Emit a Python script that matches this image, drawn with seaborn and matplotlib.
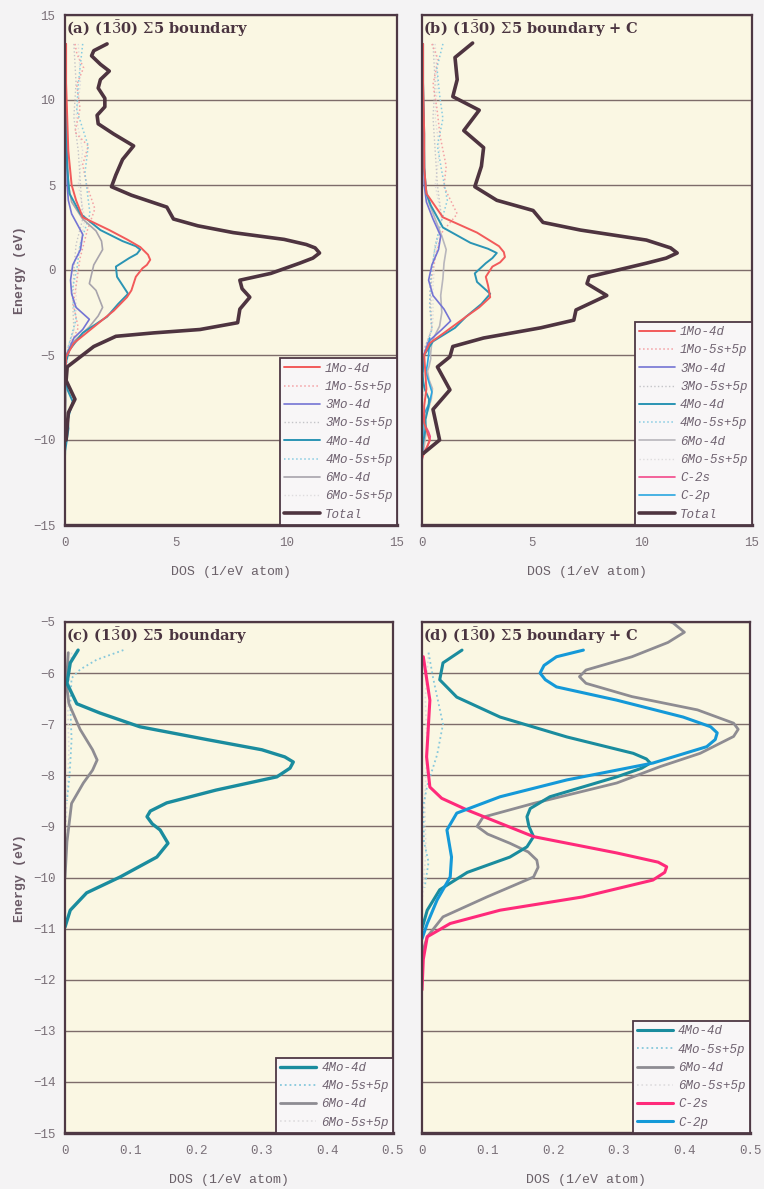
import matplotlib
matplotlib.use("Agg")
import matplotlib.pyplot as plt
import seaborn as sns

# ---------------------------------------------------------------- data
# Panel (a): (1-30) Sigma5 boundary, full energy window
a_1mo_d_E   = [13.3, 11, 9, 7, 5, 4.1, 3.1, 2.35, 1.8, 1.35, 0.9, 0.6, 0.3, 0.1, -0.4, -0.8, -1.2, -1.6, -2.4, -3.35, -4.3, -5.1, -6]
a_1mo_d     = [0.05, 0.05, 0.1, 0.15, 0.3, 0.5, 0.8, 2.0, 2.8, 3.4, 3.75, 3.85, 3.7, 3.5, 3.2, 3.1, 3.0, 2.8, 2.2, 1.3, 0.4, 0.05, 0.02]
a_1mo_sp_E  = [13.3, 12.7, 11.9, 10.9, 9.5, 8.1, 7.3, 6.2, 5.0, 3.6, 2.3, 0.7, -0.6, -2.0, -3.4, -4.5, -5.3]
a_1mo_sp    = [0.45, 0.54, 0.84, 0.53, 0.68, 0.45, 1.05, 0.8, 0.98, 1.35, 1.0, 0.68, 0.54, 0.37, 0.6, 0.2, 0.05]
a_3mo_d_E   = [13.3, 10, 7, 5, 4.1, 3.3, 2.1, 1.2, 0.3, -0.6, -1.4, -2.2, -2.9, -3.5, -4.0, -4.9, -5.8]
a_3mo_d     = [0.05, 0.05, 0.1, 0.1, 0.15, 0.3, 0.8, 0.7, 0.35, 0.25, 0.3, 0.5, 1.1, 0.8, 0.4, 0.1, 0.02]
a_3mo_sp_E  = [13.3, 11, 9, 7, 5, 3, 1.5, 0, -2, -3.5, -4.5, -5.5]
a_3mo_sp    = [0.4, 0.5, 0.4, 0.6, 0.7, 0.8, 0.5, 0.4, 0.35, 0.4, 0.15, 0.02]
a_4mo_d_E   = [13.3, 11, 8, 6, 4.5, 3.3, 2.35, 1.7, 1.4, 1.2, 0.95, 0.7, 0.2, -0.4, -0.9, -1.4, -2.0, -2.75, -3.7, -4.7, -5.5,
               -6.2, -7.05, -7.74, -8.29, -8.81, -9.33, -9.99, -10.64, -11.0]
a_4mo_d     = [0.02, 0.02, 0.05, 0.1, 0.2, 0.7, 1.6, 2.6, 3.2, 3.4, 3.25, 2.9, 2.3, 2.35, 2.6, 2.85, 2.4, 1.9, 0.8, 0.2, 0.02,
               0.003, 0.114, 0.348, 0.23, 0.125, 0.157, 0.084, 0.008, 0.0]
a_4mo_sp_E  = [13.3, 11.9, 10.9, 9.4, 7.3, 5.7, 3.3, 1.5, 0.1, -1.3, -2.9, -4.5, -5.55, -5.93, -6.1, -8.5]
a_4mo_sp    = [0.8, 0.68, 0.6, 0.53, 1.05, 0.9, 1.13, 0.68, 0.54, 0.3, 0.5, 0.15, 0.089, 0.023, 0.01, 0.005]
a_6mo_d_E   = [13.3, 10, 7, 5, 4, 3, 2.3, 1.7, 1.2, 0.3, -0.8, -1.2, -2.2, -2.7, -3.35, -4.2, -5, -6, -7.7, -9]
a_6mo_d     = [0.03, 0.05, 0.1, 0.15, 0.3, 0.8, 1.4, 1.65, 1.7, 1.3, 1.1, 1.4, 1.7, 1.5, 1.1, 0.4, 0.05, 0.003, 0.049, 0.003]
a_6mo_sp_E  = [13.3, 11, 9, 7, 5, 3, 1, -1, -3, -4.5, -5.5]
a_6mo_sp    = [0.6, 0.7, 0.5, 0.8, 0.6, 0.9, 0.6, 0.5, 0.5, 0.2, 0.02]
a_total_E   = [13.3, 12.9, 12.6, 12.1, 11.7, 11.2, 10.7, 10.1, 9.6, 9.1, 8.6, 8.0, 7.3, 6.5, 5.6, 4.9, 4.4, 3.7, 3.0,
               2.6, 2.2, 1.8, 1.5, 1.3, 1.0, 0.7, 0.4, -0.2, -0.6, -1.1, -1.6, -2.3, -3.1, -3.5, -3.7, -3.9, -4.5, -5.1,
               -5.7, -6.5, -7.6, -8.4, -10.0]
a_total     = [1.9, 1.3, 1.2, 1.6, 2.0, 1.6, 1.5, 1.8, 1.8, 1.45, 1.5, 2.2, 3.1, 2.6, 2.3, 2.1, 3.0, 4.6, 4.9,
               6.0, 7.6, 9.9, 10.9, 11.3, 11.5, 11.2, 10.6, 9.3, 7.9, 8.0, 8.35, 7.9, 7.8, 6.1, 4.0, 2.3, 1.3, 0.7,
               0.1, 0.05, 0.45, 0.15, 0.05]

# Panel (b): (1-30) Sigma5 boundary + C, full energy window
b_1mo_d_E   = [13.3, 11, 8, 6, 4.5, 3.1, 2.2, 1.4, 1.05, 0.76, 0.45, 0.2, -0.4, -0.9, -1.6, -2.2, -2.75, -3.7, -4.3, -5, -6, -7,
               -8, -9, -9.6, -10, -10.5, -11]
b_1mo_d     = [0.05, 0.05, 0.1, 0.1, 0.2, 0.95, 2.5, 3.5, 3.72, 3.77, 3.55, 3.2, 2.9, 3.0, 3.1, 2.6, 2.0, 1.0, 0.35, 0.1, 0.15, 0.2,
               0.1, 0.1, 0.25, 0.35, 0.2, 0.02]
b_1mo_sp_E  = [13.3, 12.4, 10.9, 9.5, 7.9, 6.1, 4.9, 3.3, 2.2, 0.7, -0.6, -2.0, -3.5, -4.5, -5.5]
b_1mo_sp    = [0.45, 0.73, 0.5, 0.68, 0.82, 1.1, 1.0, 1.6, 0.9, 0.6, 0.4, 0.35, 0.45, 0.15, 0.03]
b_3mo_d_E   = [13.3, 10, 7, 5, 4, 3, 2, 1.2, 0.3, -0.6, -1.5, -2.3, -3.0, -3.5, -4.2, -5, -6]
b_3mo_d     = [0.05, 0.05, 0.1, 0.1, 0.2, 0.5, 0.85, 0.75, 0.45, 0.3, 0.5, 1.0, 1.3, 0.9, 0.3, 0.08, 0.02]
b_3mo_sp_E  = [13.3, 11, 9, 7, 5, 3, 1.5, 0, -2, -3.5, -4.5, -5.5]
b_3mo_sp    = [0.5, 0.6, 0.5, 0.6, 0.7, 0.9, 0.6, 0.45, 0.4, 0.45, 0.15, 0.02]
b_4mo_d_E   = [13.3, 11, 8, 6, 4.5, 3.8, 2.5, 1.6, 1.25, 1.0, 0.7, 0.4, -0.2, -0.7, -1.4, -2.0, -2.75, -3.4, -4.2, -5.0, -5.6,
               -6.1, -6.5, -7.0, -7.6, -8.0, -8.8, -9.2, -9.6, -10.3, -11]
b_4mo_d     = [0.05, 0.05, 0.1, 0.1, 0.2, 0.4, 0.95, 2.2, 3.0, 3.4, 3.2, 2.9, 2.4, 2.5, 3.1, 2.7, 2.0, 1.5, 0.5, 0.1, 0.06,
               0.03, 0.05, 0.12, 0.32, 0.3, 0.16, 0.17, 0.13, 0.027, 0.0]
b_4mo_sp_E  = [13.3, 11.9, 10.3, 8.9, 7.3, 5.8, 4.1, 2.5, 1.0, -0.5, -2.0, -3.5, -4.6, -5.6, -7.0, -8.2]
b_4mo_sp    = [0.95, 0.68, 0.8, 0.95, 0.7, 0.9, 1.15, 0.8, 0.55, 0.4, 0.35, 0.45, 0.15, 0.03, 0.03, 0.008]
b_6mo_d_E   = [13.3, 10, 7, 5, 4, 3, 2, 1.2, 0.4, -0.5, -1.5, -2.5, -3.3, -4.2, -5.02, -5.2, -5.68, -5.94, -6.46,
               -6.98, -7.57, -8.15, -8.82, -9.33, -9.66, -10.38, -11.16]
b_6mo_d     = [0.03, 0.05, 0.1, 0.15, 0.3, 0.6, 0.9, 1.1, 1.0, 0.95, 0.85, 0.9, 0.8, 0.45, 0.383, 0.40, 0.32, 0.25, 0.32,
               0.475, 0.424, 0.297, 0.093, 0.134, 0.175, 0.099, 0.008]
b_6mo_sp_E  = [13.3, 11, 9, 7, 5, 3, 1, -1, -3, -4.5, -5.5]
b_6mo_sp    = [0.6, 0.7, 0.6, 0.8, 0.6, 0.9, 0.6, 0.5, 0.5, 0.2, 0.02]
b_c2s_E     = [-5.68, -6.53, -7.64, -8.23, -8.68, -9.2, -9.52, -9.79, -10.05, -10.38, -10.64, -10.9, -11.16, -12.2]
b_c2s       = [0.002, 0.012, 0.007, 0.012, 0.069, 0.17, 0.297, 0.373, 0.352, 0.245, 0.119, 0.043, 0.008, 0.0]
b_c2p_E     = [-4.0, -5.0, -5.55, -6.0, -6.53, -7.17, -7.76, -8.42, -9.07, -9.6, -10.44, -10.9]
b_c2p       = [0.35, 0.3, 0.246, 0.18, 0.297, 0.45, 0.352, 0.119, 0.038, 0.045, 0.023, 0.008]
b_total_E   = [13.35, 12.5, 11.2, 10.2, 9.4, 8.2, 7.2, 6.1, 4.9, 4.1, 3.5, 2.8, 2.35, 1.76, 1.3, 1.0, 0.7, 0.4, -0.4, -0.8,
               -1.5, -2.35, -2.95, -3.4, -4.0, -4.5, -5.1, -5.7, -7.05, -8.2, -10.0, -10.8]
b_total     = [2.3, 1.5, 1.6, 1.4, 2.6, 1.9, 2.8, 2.7, 2.4, 3.4, 5.05, 5.5, 7.2, 10.2, 11.3, 11.6, 11.1, 10.2, 7.6, 7.5,
               8.4, 7.0, 6.9, 5.4, 2.8, 1.4, 1.27, 0.7, 1.27, 0.5, 0.8, 0.05]

# Panel (c): Sigma5 boundary, lower valence band
c_4mo_d_E   = [-5.55, -5.8, -6.2, -6.6, -6.78, -7.05, -7.3, -7.5, -7.64, -7.74, -7.86, -8.03, -8.29, -8.54, -8.7, -8.81,
               -8.95, -9.07, -9.33, -9.6, -9.99, -10.3, -10.64, -10.97]
c_4mo_d     = [0.02, 0.008, 0.003, 0.018, 0.053, 0.114, 0.216, 0.30, 0.335, 0.348, 0.343, 0.323, 0.23, 0.155, 0.13, 0.125,
               0.133, 0.145, 0.157, 0.14, 0.084, 0.033, 0.008, 0.0]
c_4mo_sp_E  = [-5.55, -5.74, -5.93, -6.1, -6.6, -7.3, -8.0, -8.5]
c_4mo_sp    = [0.089, 0.048, 0.023, 0.01, 0.008, 0.01, 0.007, 0.003]
c_6mo_d_E   = [-5.6, -6.2, -6.6, -7.1, -7.5, -7.7, -7.9, -8.15, -8.55, -9.3, -10.0]
c_6mo_d     = [0.005, 0.002, 0.006, 0.023, 0.042, 0.049, 0.042, 0.028, 0.01, 0.003, 0.0]
c_6mo_sp_E  = [-5.6, -6.5, -7.5, -8.5, -9.5]
c_6mo_sp    = [0.01, 0.004, 0.006, 0.003, 0.0]

# Panel (d): Sigma5 boundary + C, lower valence band
d_4mo_d_E   = [-5.55, -5.8, -6.13, -6.47, -6.86, -7.25, -7.57, -7.68, -7.76, -7.86, -8.03, -8.42, -8.65, -8.81, -9.0,
               -9.2, -9.4, -9.6, -9.9, -10.24, -10.64, -11.0]
d_4mo_d     = [0.061, 0.032, 0.027, 0.053, 0.119, 0.221, 0.322, 0.342, 0.348, 0.335, 0.297, 0.195, 0.165, 0.16, 0.163,
               0.17, 0.16, 0.134, 0.069, 0.027, 0.008, 0.0]
d_4mo_sp_E  = [-5.6, -6.1, -7.0, -7.6, -8.2, -8.6, -9.3, -9.7, -10.2]
d_4mo_sp    = [0.01, 0.017, 0.032, 0.023, 0.008, 0.002, 0.003, 0.01, 0.004]
d_6mo_d_E   = [-4.9, -5.02, -5.2, -5.4, -5.68, -5.94, -6.07, -6.2, -6.46, -6.72, -6.98, -7.1, -7.24, -7.57, -7.83, -8.15,
               -8.55, -8.82, -9.0, -9.15, -9.33, -9.5, -9.66, -9.8, -9.99, -10.38, -10.77, -11.16, -11.5]
d_6mo_d     = [0.36, 0.383, 0.40, 0.375, 0.32, 0.25, 0.24, 0.25, 0.32, 0.42, 0.475, 0.482, 0.475, 0.424, 0.363, 0.297,
               0.17, 0.093, 0.084, 0.1, 0.134, 0.162, 0.175, 0.177, 0.17, 0.099, 0.032, 0.008, 0.0]
d_6mo_sp_E  = [-5.6, -6.5, -7.5, -8.5, -9.5, -10.5]
d_6mo_sp    = [0.01, 0.005, 0.008, 0.004, 0.006, 0.0]
d_c2s_E     = [-5.68, -6.53, -7.64, -8.23, -8.45, -8.68, -9.2, -9.52, -9.7, -9.79, -9.9, -10.05, -10.38, -10.64,
               -10.9, -11.16, -11.6, -12.2]
d_c2s       = [0.002, 0.012, 0.007, 0.012, 0.03, 0.069, 0.17, 0.297, 0.36, 0.373, 0.37, 0.352, 0.245, 0.119,
               0.043, 0.008, 0.002, 0.0]
d_c2p_E     = [-5.55, -5.68, -5.85, -6.0, -6.13, -6.27, -6.53, -6.86, -7.05, -7.17, -7.3, -7.44, -7.76, -8.09, -8.42,
               -8.74, -9.07, -9.6, -9.99, -10.44, -10.9, -11.2]
d_c2p       = [0.246, 0.205, 0.186, 0.18, 0.188, 0.205, 0.297, 0.398, 0.44, 0.45, 0.447, 0.434, 0.352, 0.221, 0.119,
               0.053, 0.038, 0.045, 0.043, 0.023, 0.008, 0.0]

top_xticks = [0, 5, 10, 15]
top_yticks = [-15, -10, -5, 0, 5, 10, 15]
bot_xticks = [0, 0.1, 0.2, 0.3, 0.4, 0.5]
bot_xlabels = ["0", "0.1", "0.2", "0.3", "0.4", "0.5"]
bot_yticks = list(range(-15, -4))

titles = [r"(a) (1$\bar{3}$0) $\mathit{\Sigma}$5 boundary",
          r"(b) (1$\bar{3}$0) $\mathit{\Sigma}$5 boundary + C",
          r"(c) (1$\bar{3}$0) $\mathit{\Sigma}$5 boundary",
          r"(d) (1$\bar{3}$0) $\mathit{\Sigma}$5 boundary + C"]

# ---------------------------------------------------------------- style
sns.set_theme(style="white")
plt.rcParams["mathtext.fontset"] = "dejavuserif"
plt.rcParams["lines.solid_joinstyle"] = "round"
plt.rcParams["lines.solid_capstyle"] = "round"

FIG_BG = "#f4f3f4"
AX_BG = "#faf7e3"
FRAME = "#4e3844"
GRID = "#7d6c6a"
TEXT = "#4a3440"
TICK_TXT = "#7a7078"
LEG_TXT = "#6f6270"

COL = {
    "1mo_d": "#f25a5a", "1mo_sp": "#f4a0a4",
    "3mo_d": "#7474d4", "3mo_sp": "#c4c4c8",
    "4mo_d": "#2a94b4", "4mo_sp": "#86cbe2",
    "6mo_d": "#a8a4ac", "6mo_sp": "#dedcde",
    "c2s": "#f2488a", "c2p": "#2aa6e0", "total": "#4e3440",
}
COL_LOW = {"4mo_d": "#1a8c9e", "4mo_sp": "#86c8dc", "6mo_d": "#8e8c92", "6mo_sp": "#dedcde",
           "c2s": "#ff2a7a", "c2p": "#1499d8"}

MONO = "Liberation Mono"

fig = plt.figure(figsize=(7.64, 11.89), dpi=100, facecolor=FIG_BG)
W, H = 764.0, 1189.0


def add_axes(left, top, right, bottom):
    return fig.add_axes([left / W, 1 - bottom / H, (right - left) / W, (bottom - top) / H])


ax_a = add_axes(65, 15, 397, 525)
ax_b = add_axes(422, 15, 752, 525)
ax_c = add_axes(65, 622, 393, 1133)
ax_d = add_axes(422, 622, 750, 1133)


def curve(ax, E, dos, color, lw, ls, label, store):
    n = len(ax.get_lines())
    sns.lineplot(x=dos, y=E, ax=ax, color=color, linewidth=lw, linestyle=ls,
                 sort=False, estimator=None, orient="y", legend=False)
    line = ax.get_lines()[n]
    store.append((line, label))


def finish(ax, xlim, xticks, xlabels, ylim, yticks, show_y, title, entries):
    ax.set_facecolor(AX_BG)
    ax.set_xlim(*xlim)
    ax.set_ylim(*ylim)
    ax.set_xticks(xticks)
    ax.set_xticklabels(xlabels)
    ax.set_yticks(yticks)
    ax.grid(axis="y", color=GRID, linewidth=1.0)
    ax.grid(axis="x", visible=False)
    for side, sp in ax.spines.items():
        sp.set_visible(True)
        sp.set_color(FRAME)
        sp.set_linewidth(2.4 if side == "bottom" else 1.6)
    ax.tick_params(axis="x", direction="in", length=3, width=1, color=FRAME, pad=9,
                   labelsize=9, labelcolor=TICK_TXT)
    ax.tick_params(axis="y", length=0, pad=7, labelsize=9, labelcolor=TICK_TXT,
                   labelleft=show_y)
    for lab in ax.get_xticklabels() + ax.get_yticklabels():
        lab.set_family(MONO)
    ax.set_xlabel("DOS (1/eV atom)", family=MONO, fontsize=9.5, color="#6a6068", labelpad=12)
    if show_y:
        ax.set_ylabel("Energy (eV)", family=MONO, fontsize=9.5, fontweight="bold",
                      color="#6a5a66", labelpad=5)
    else:
        ax.set_ylabel("")
    ax.text(0.004, 0.994, title, transform=ax.transAxes, ha="left", va="top",
            fontsize=10.5, fontweight="bold", family="DejaVu Serif", color=TEXT, zorder=5)
    leg = ax.legend([h for h, _ in entries], [l for _, l in entries], loc="lower right",
                    borderaxespad=0, frameon=True, fancybox=False, framealpha=1,
                    facecolor="#f8f6f7", edgecolor=FRAME,
                    prop={"family": MONO, "style": "italic", "size": 9},
                    handlelength=2.9, handletextpad=0.4, labelspacing=0.5, borderpad=0.35)
    leg.get_frame().set_linewidth(1.3)
    leg.set_zorder(10)
    for t in leg.get_texts():
        t.set_color(LEG_TXT)


# ---------------------------------------------------------------- (a)
ent = []
curve(ax_a, a_6mo_sp_E, a_6mo_sp, COL["6mo_sp"], 1.0, ":", "6Mo-5s+5p", ent)
curve(ax_a, a_3mo_sp_E, a_3mo_sp, COL["3mo_sp"], 1.0, ":", "3Mo-5s+5p", ent)
curve(ax_a, a_1mo_sp_E, a_1mo_sp, COL["1mo_sp"], 1.1, ":", "1Mo-5s+5p", ent)
curve(ax_a, a_4mo_sp_E, a_4mo_sp, COL["4mo_sp"], 1.1, ":", "4Mo-5s+5p", ent)
curve(ax_a, a_6mo_d_E, a_6mo_d, COL["6mo_d"], 1.2, "-", "6Mo-4d", ent)
curve(ax_a, a_3mo_d_E, a_3mo_d, COL["3mo_d"], 1.2, "-", "3Mo-4d", ent)
curve(ax_a, a_4mo_d_E, a_4mo_d, COL["4mo_d"], 1.4, "-", "4Mo-4d", ent)
curve(ax_a, a_1mo_d_E, a_1mo_d, COL["1mo_d"], 1.4, "-", "1Mo-4d", ent)
curve(ax_a, a_total_E, a_total, COL["total"], 2.6, "-", "Total", ent)
order = ["1Mo-4d", "1Mo-5s+5p", "3Mo-4d", "3Mo-5s+5p", "4Mo-4d", "4Mo-5s+5p", "6Mo-4d", "6Mo-5s+5p", "Total"]
d_ent = dict((l, h) for h, l in ent)
finish(ax_a, (0, 15), top_xticks, [str(v) for v in top_xticks], (-15, 15), top_yticks, True,
       titles[0], [(d_ent[l], l) for l in order])

# ---------------------------------------------------------------- (b)
ent = []
curve(ax_b, b_6mo_sp_E, b_6mo_sp, COL["6mo_sp"], 1.0, ":", "6Mo-5s+5p", ent)
curve(ax_b, b_3mo_sp_E, b_3mo_sp, COL["3mo_sp"], 1.0, ":", "3Mo-5s+5p", ent)
curve(ax_b, b_1mo_sp_E, b_1mo_sp, COL["1mo_sp"], 1.1, ":", "1Mo-5s+5p", ent)
curve(ax_b, b_4mo_sp_E, b_4mo_sp, COL["4mo_sp"], 1.1, ":", "4Mo-5s+5p", ent)
curve(ax_b, b_6mo_d_E, b_6mo_d, "#b8b6bc", 1.2, "-", "6Mo-4d", ent)
curve(ax_b, b_3mo_d_E, b_3mo_d, COL["3mo_d"], 1.2, "-", "3Mo-4d", ent)
curve(ax_b, b_c2p_E, b_c2p, COL["c2p"], 1.2, "-", "C-2p", ent)
curve(ax_b, b_c2s_E, b_c2s, COL["c2s"], 1.2, "-", "C-2s", ent)
curve(ax_b, b_4mo_d_E, b_4mo_d, COL["4mo_d"], 1.4, "-", "4Mo-4d", ent)
curve(ax_b, b_1mo_d_E, b_1mo_d, COL["1mo_d"], 1.4, "-", "1Mo-4d", ent)
curve(ax_b, b_total_E, b_total, COL["total"], 2.6, "-", "Total", ent)
order = ["1Mo-4d", "1Mo-5s+5p", "3Mo-4d", "3Mo-5s+5p", "4Mo-4d", "4Mo-5s+5p", "6Mo-4d", "6Mo-5s+5p",
         "C-2s", "C-2p", "Total"]
d_ent = dict((l, h) for h, l in ent)
finish(ax_b, (0, 15), top_xticks, [str(v) for v in top_xticks], (-15, 15), top_yticks, False,
       titles[1], [(d_ent[l], l) for l in order])

# ---------------------------------------------------------------- (c)
ent = []
curve(ax_c, c_6mo_sp_E, c_6mo_sp, COL_LOW["6mo_sp"], 1.2, ":", "6Mo-5s+5p", ent)
curve(ax_c, c_4mo_sp_E, c_4mo_sp, COL_LOW["4mo_sp"], 1.3, ":", "4Mo-5s+5p", ent)
curve(ax_c, c_6mo_d_E, c_6mo_d, COL_LOW["6mo_d"], 2.0, "-", "6Mo-4d", ent)
curve(ax_c, c_4mo_d_E, c_4mo_d, COL_LOW["4mo_d"], 2.4, "-", "4Mo-4d", ent)
order = ["4Mo-4d", "4Mo-5s+5p", "6Mo-4d", "6Mo-5s+5p"]
d_ent = dict((l, h) for h, l in ent)
finish(ax_c, (0, 0.5), bot_xticks, bot_xlabels, (-15, -5), bot_yticks, True,
       titles[2], [(d_ent[l], l) for l in order])

# ---------------------------------------------------------------- (d)
ent = []
curve(ax_d, d_6mo_sp_E, d_6mo_sp, COL_LOW["6mo_sp"], 1.2, ":", "6Mo-5s+5p", ent)
curve(ax_d, d_4mo_sp_E, d_4mo_sp, COL_LOW["4mo_sp"], 1.3, ":", "4Mo-5s+5p", ent)
curve(ax_d, d_6mo_d_E, d_6mo_d, COL_LOW["6mo_d"], 2.0, "-", "6Mo-4d", ent)
curve(ax_d, d_4mo_d_E, d_4mo_d, COL_LOW["4mo_d"], 2.2, "-", "4Mo-4d", ent)
curve(ax_d, d_c2s_E, d_c2s, COL_LOW["c2s"], 2.2, "-", "C-2s", ent)
curve(ax_d, d_c2p_E, d_c2p, COL_LOW["c2p"], 2.2, "-", "C-2p", ent)
order = ["4Mo-4d", "4Mo-5s+5p", "6Mo-4d", "6Mo-5s+5p", "C-2s", "C-2p"]
d_ent = dict((l, h) for h, l in ent)
finish(ax_d, (0, 0.5), bot_xticks, bot_xlabels, (-15, -5), bot_yticks, False,
       titles[3], [(d_ent[l], l) for l in order])

fig.savefig("out.png", dpi=100, facecolor=FIG_BG)
